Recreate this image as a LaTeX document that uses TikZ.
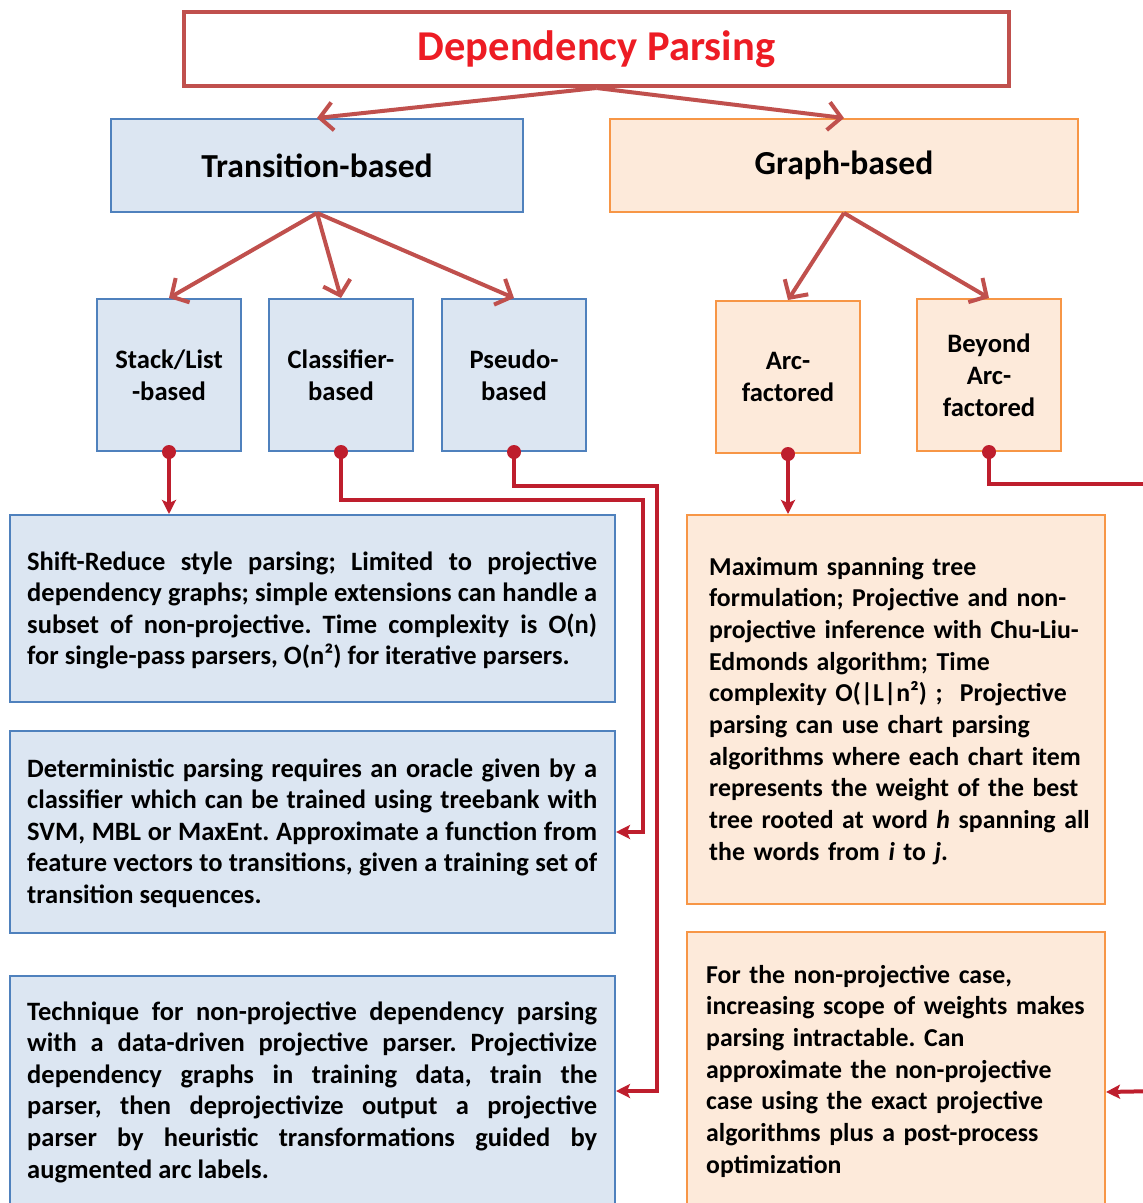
\documentclass[tikz,border=0pt]{standalone}
\usepackage{fontspec}
\setmainfont{Carlito}
\usetikzlibrary{arrows.meta}
\definecolor{bfill}{HTML}{DCE6F2}
\definecolor{bline}{HTML}{4F81BD}
\definecolor{ofill}{HTML}{FDEADA}
\definecolor{oline}{HTML}{F79646}
\definecolor{tline}{HTML}{C0504D}
\definecolor{ttext}{HTML}{ED1C24}
\definecolor{cline}{HTML}{BE1E2D}
\newcommand{\bluefnt}{\fontsize{26.5}{31.6}\selectfont\bfseries\frenchspacing\tolerance=9999\hyphenpenalty=10000}
\newcommand{\orfnt}{\fontsize{25.8}{31.7}\selectfont\bfseries\frenchspacing}
\tikzset{
  bluebox/.style={draw=bline, fill=bfill, line width=2pt, inner sep=0pt, anchor=north west},
  orbox/.style={draw=oline, fill=ofill, line width=2pt, inner sep=0pt, anchor=north west},
  titlebox/.style={draw=tline, fill=white, line width=4pt, inner sep=0pt, anchor=north west,
     font=\fontsize{42.5}{48}\selectfont\bfseries, text=ttext},
  headtext/.style={font=\fontsize{33.6}{40}\selectfont\bfseries},
  smalltext/.style={font=\fontsize{26.6}{31.8}\selectfont\bfseries, align=center},
  bodyj/.style={font=\bluefnt, text width=570pt, align=justify, inner sep=0pt, anchor=base west},
  bodyr/.style={font=\orfnt, text width=420pt, align=left, inner sep=0pt, anchor=base west},
  toparrow/.style={draw=tline, line width=4pt, -{Straight Barb[length=13pt,width=28pt,line width=4pt]}},
  conn/.style={draw=cline, line width=4pt, -{Stealth[length=14pt,width=14pt,inset=3pt]}},
  connplain/.style={draw=cline, line width=4pt},
  dot/.style={fill=cline},
}
\begin{document}
\begin{tikzpicture}[x=1pt,y=-1pt]
\useasboundingbox (0,0) rectangle (1143,1203);
% title
\node[titlebox, minimum width=825pt, minimum height=74pt] (title) at (182,10) {Dependency Parsing};
% level 1
\node[bluebox, headtext, minimum width=412pt, minimum height=93pt] (trans) at (110,118) {Transition-based};
\node[orbox, headtext, minimum width=468pt, minimum height=93pt] (graph) at (609,118) {Graph-based};
% level 2
\node[bluebox, smalltext, minimum width=144pt, minimum height=152pt] (stack) at (96,298) {Stack/List\\-based};
\node[bluebox, smalltext, minimum width=144pt, minimum height=152pt] (cls) at (268,298) {Classifier-\\based};
\node[bluebox, smalltext, minimum width=144pt, minimum height=152pt] (pseudo) at (441,298) {Pseudo-\\based};
\node[orbox, smalltext, minimum width=144pt, minimum height=152pt] (arc) at (715,300) {Arc-\\factored};
\node[orbox, smalltext, minimum width=144pt, minimum height=152pt] (beyond) at (916,298) {Beyond\\Arc-\\factored};
% description boxes
\node[bluebox, minimum width=605pt, minimum height=187pt] (d1) at (9,514) {};
\node[bluebox, minimum width=605pt, minimum height=202pt] (d2) at (9,730) {};
\node[bluebox, minimum width=605pt, minimum height=230pt] (d3) at (9,975) {};
\node[orbox, minimum width=418pt, minimum height=389pt] (o1) at (686,514) {};
\node[orbox, minimum width=418pt, minimum height=320pt] (o2) at (686,931) {};
% description texts
\node[bodyj] (t1) at (27,570) {Shift-Reduce style parsing; Limited to projective\linebreak dependency graphs; simple extensions can handle a\linebreak subset of non-projective. Time complexity is O(n)\linebreak for single-pass parsers, O(n²) for iterative parsers.};
\node[bodyj] (t2) at (27,777) {Deterministic parsing requires an oracle given by a\linebreak classifier which can be trained using treebank with\linebreak SVM, MBL or MaxEnt. Approximate a function from\linebreak feature vectors to transitions, given a training set of\linebreak transition sequences.};
\node[bodyj] (t3) at (27,1020) {Technique for non-projective dependency parsing\linebreak with a data-driven projective parser. Projectivize\linebreak dependency graphs in training data, train the\linebreak parser, then deprojectivize output a projective\linebreak parser by heuristic transformations guided by\linebreak augmented arc labels.};
\node[bodyr] (t4) at (709,575) {Maximum spanning tree\\formulation; Projective and non-\\projective inference with Chu-Liu-\\Edmonds algorithm; Time\\complexity O(|L|n²) ;\ \ Projective\\parsing can use chart parsing\\algorithms where each chart item\\represents the weight of the best\\tree rooted at word \textit{h} spanning all\\the words from \textit{i} to \textit{j}.};
\node[bodyr] (t5) at (706,983) {For the non-projective case,\\increasing scope of weights makes\\parsing intractable. Can\\approximate the non-projective\\case using the exact projective\\algorithms plus a post-process\\optimization};
% top arrows
\draw[toparrow] (title.south) -- (trans.north);
\draw[toparrow] (title.south) -- (graph.north);
\draw[toparrow] (trans.south) -- (stack.north);
\draw[toparrow] (trans.south) -- (cls.north);
\draw[toparrow] (trans.south) -- (pseudo.north);
\draw[toparrow] (graph.south) -- (arc.north);
\draw[toparrow] (graph.south) -- (beyond.north);
% bottom connectors
\coordinate (k1) at (643,500);
\coordinate (k2) at (657,486);
\coordinate (k3) at (1160,484);
\coordinate (k4) at (1160,1091);
\draw[conn] (stack.south) -- (stack.south |- d1.north);
\draw[conn] (cls.south) |- (k1) |- (d2.east);
\draw[conn] (pseudo.south) |- (k2) |- (d3.east);
\draw[conn] (arc.south) -- (arc.south |- o1.north);
\draw[connplain] (beyond.south) |- (k3);
\draw[conn] (k4) -- (o2.east);
\fill[dot] (stack.south) circle (7pt);
\fill[dot] (cls.south) circle (7pt);
\fill[dot] (pseudo.south) circle (7pt);
\fill[dot] (arc.south) circle (7pt);
\fill[dot] (beyond.south) circle (7pt);
\end{tikzpicture}
\end{document}
